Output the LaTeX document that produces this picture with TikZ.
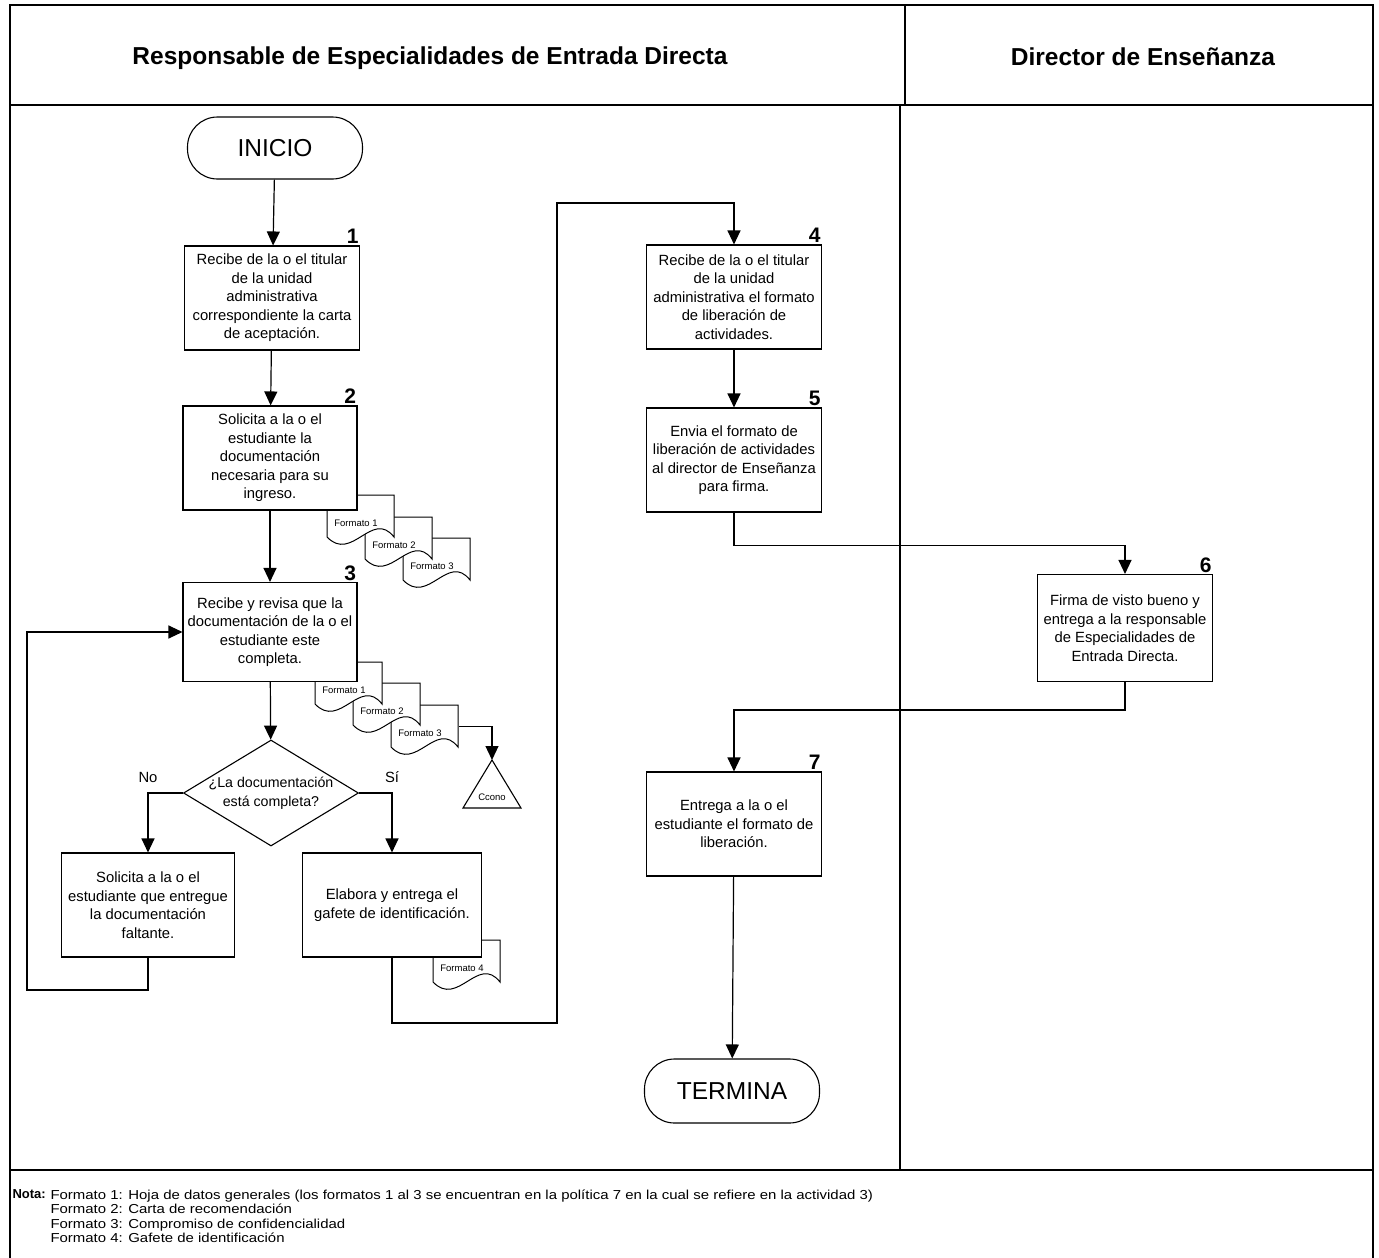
\documentclass[tikz,border=0pt]{standalone}
\usepackage{fontspec}
\setmainfont{Liberation Sans}
\newfontfamily\notefont[FakeStretch=1.15]{Liberation Sans}
\usetikzlibrary{arrows.meta,shapes.geometric}

% one "Formato" sheet: name, left, top, label
\newcommand{\formato}[4]{%
  \node[docbox, anchor=north west] (#1) at (#2,#3) {};
  \draw[fill=white, line width=1pt] (#2,#3) -- ({#2+67},#3) -- ({#2+67},{#3+42})
    .. controls ({#2+45},{#3+14}) and ({#2+25},{#3+68}) .. (#2,{#3+42}) -- cycle;
  \node[doclbl] (#1lbl) at ({#2+29},{#3+28}) {#4};
}

\begin{document}
\begin{tikzpicture}[x=1pt, y=-1pt, line width=1.1pt,
    proc/.style={rectangle, draw, fill=white, minimum width=175pt, minimum height=104pt,
      inner sep=1pt, align=center, font=\fontsize{14.8}{18.5}\selectfont},
    term/.style={rectangle, rounded corners=30pt, draw, fill=white, minimum width=175pt,
      minimum height=62pt, font=\fontsize{24.5}{28}\selectfont},
    stepno/.style={anchor=south east, inner sep=1pt, font=\fontsize{21}{23}\selectfont\bfseries},
    lane/.style={font=\fontsize{24.5}{28}\selectfont\bfseries},
    docbox/.style={minimum width=67pt, minimum height=42pt, inner sep=0pt},
    doclbl/.style={font=\fontsize{9.5}{10}\selectfont, inner sep=0pt},
    arr/.style={line width=1.2pt, -{Triangle[width=13pt,length=14pt]}}]
    \useasboundingbox (0,0) rectangle (1379,1258);

    % swimlanes
    \draw (10,1258) -- (10,5) -- (1373,5) -- (1373,1258);
    \draw (10,105) -- (1373,105);
    \draw (905,5) -- (905,105);
    \draw (900,105) -- (900,1170);
    \draw (10,1170) -- (1373,1170);
    \node[lane] (laneA) at (430,58) {Responsable de Especialidades de Entrada Directa};
    \node[lane] (laneB) at (1143,57) {Director de Enseñanza};

    \node[term] (inicio) at (275,148) {INICIO};

    \node[proc] (act1) at (272,298) {Recibe de la o el titular\\de la unidad\\administrativa\\correspondiente la carta\\de aceptación.};
    \node[stepno] at (act1.north east) {1};

    \formato{fc}{403}{538}{Formato 3}
    \formato{fb}{365}{517}{Formato 2}
    \formato{fa}{327}{495}{Formato 1}
    \node[proc, minimum width=174pt] (act2) at (270,458) {Solicita a la o el\\estudiante la\\documentación\\necesaria para su\\ingreso.};
    \node[stepno] at (act2.north east) {2};

    \formato{gc}{391}{705}{Formato 3}
    \formato{gb}{353}{683}{Formato 2}
    \formato{ga}{315}{662}{Formato 1}
    \node[proc, minimum width=174pt, minimum height=99pt] (act3) at (270,632) {Recibe y revisa que la\\documentación de la o el\\estudiante este\\completa.};
    \node[stepno] at (act3.north east) {3};

    \coordinate (cono) at (492,760);
    \draw (cono) -- (463,808) -- (521,808) -- cycle;
    \node[doclbl] (conolbl) at (492,797) {Ccono};
    \draw[arr] (gc.east) -| (cono);

    \node[diamond, draw, fill=white, minimum width=175pt, minimum height=106pt, aspect=1.65,
      inner sep=0pt] (dec) at (271,793) {};
    \node[align=center, font=\fontsize{14.2}{18.5}\selectfont] (dectxt) at (dec) {¿La documentación\\está completa?};

    \node[proc, minimum width=173pt] (falta) at (148,905) {Solicita a la o el\\estudiante que entregue\\la documentación\\faltante.};
    \formato{ha}{433}{940}{Formato 4}
    \node[proc, minimum width=179pt] (gafete) at (392,905) {Elabora y entrega el\\gafete de identificación.};

    \node[proc] (act4) at (734,297) {Recibe de la o el titular\\de la unidad\\administrativa el formato\\de liberación de\\actividades.};
    \node[stepno] at (act4.north east) {4};
    \node[proc] (act5) at (734,460) {Envia el formato de\\liberación de actividades\\al director de Enseñanza\\para firma.};
    \node[stepno] at (act5.north east) {5};
    \node[proc, minimum height=107pt] (act6) at (1125,628) {Firma de visto bueno y\\entrega a la responsable\\de Especialidades de\\Entrada Directa.};
    \node[stepno] at (act6.north east) {6};
    \node[proc] (act7) at (734,824) {Entrega a la o el\\estudiante el formato de\\liberación.};
    \node[stepno] at (act7.north east) {7};
    \node[term, minimum height=64pt] (termina) at (732,1091) {TERMINA};

    % connectors
    \draw[arr] (inicio) -- (act1);
    \draw[arr] (act1) -- (act2);
    \draw[arr] (act2) -- (act3);
    \draw[arr] (act3) -- (dec);
    \draw[arr] (dec.west) -| node[pos=0.5, above=6pt, font=\fontsize{14.8}{17}\selectfont] (lblno) {No} (falta.north);
    \draw[arr] (dec.east) -| node[pos=0.5, above=6pt, font=\fontsize{14.8}{17}\selectfont] (lblsi) {Sí} (gafete.north);
    \coordinate (loopc) at (27,990);
    \draw[arr] (falta.south) |- (loopc) |- (act3.west);
    \coordinate (jumpa) at (557,1023);
    \coordinate (jumpb) at (557,203);
    \draw[arr] (gafete.south) |- (jumpa) -- (jumpb) -| (act4.north);
    \draw[arr] (act4) -- (act5);
    \draw[arr] (act5.south) -- ++(0,33) -| (act6.north);
    \draw[arr] (act6.south) -- ++(0,28) -| (act7.north);
    \draw[arr] (act7) -- (termina);

    % note
    \node[anchor=north west, inner sep=0pt, font=\fontsize{13}{14.5}\selectfont\bfseries] (notalbl) at (12,1189) {Nota:};
    \node[anchor=north west, inner sep=0pt, align=left, font=\notefont\fontsize{13}{14.5}\selectfont] (notatxt) at (notalbl.north -| 50,0)
      {Formato 1: Hoja de datos generales (los formatos 1 al 3 se encuentran en la política 7 en la cual se refiere en la actividad 3)\\
       Formato 2: Carta de recomendación\\
       Formato 3: Compromiso de confidencialidad\\
       Formato 4: Gafete de identificación};
\end{tikzpicture}
\end{document}
